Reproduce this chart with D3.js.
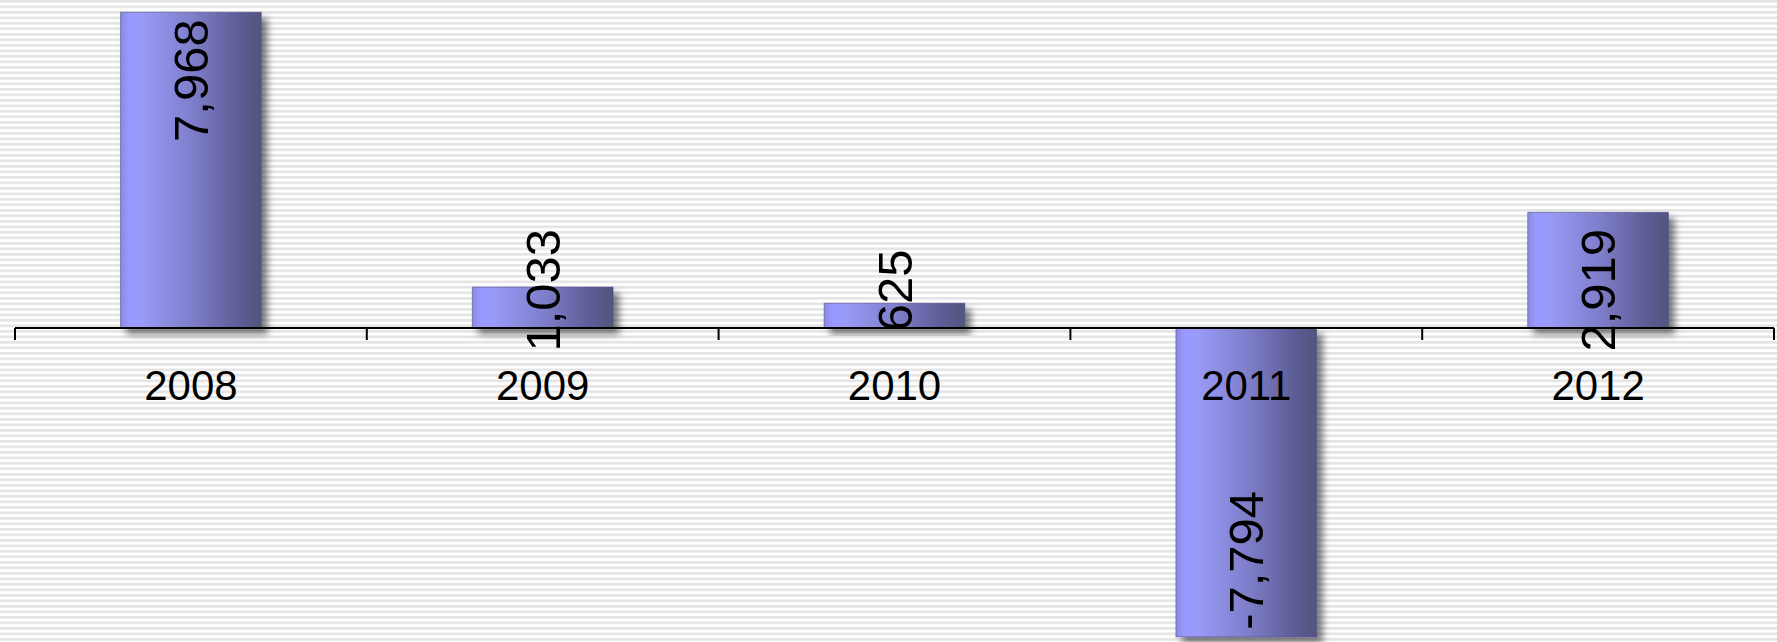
<!DOCTYPE html>
<html>
<head>
<meta charset="utf-8">
<script src="https://cdn.jsdelivr.net/npm/d3@7/dist/d3.min.js"></script>
<style>
  html, body { margin: 0; padding: 0; background: #fff; }
  svg { display: block; }
  text { font-family: Arial, "Liberation Sans", sans-serif; fill: #000; }
</style>
</head>
<body>
<script>
const categories = ["2008", "2009", "2010", "2011", "2012"];
const values = [7968, 1033, 625, -7794, 2919];
const valueLabels = ["7,968", "1,033", "625", "-7,794", "2,919"];
const yDomain = [-8000, 8000];

const W = 1777, H = 642;
const svg = d3.select("body").append("svg").attr("width", W).attr("height", H);
const defs = svg.append("defs");

// striped background
const pat = defs.append("pattern").attr("id", "stripes")
  .attr("patternUnits", "userSpaceOnUse").attr("width", 10).attr("height", 5.5);
pat.append("rect").attr("width", 10).attr("height", 5.5).attr("fill", "#ffffff");
pat.append("rect").attr("y", 0).attr("width", 10).attr("height", 2.6).attr("fill", "#e4e4e4");
svg.append("rect").attr("width", W).attr("height", H).attr("fill", "url(#stripes)");

// bar gradient
const grad = defs.append("linearGradient").attr("id", "barGrad")
  .attr("x1", "0%").attr("x2", "100%").attr("y1", "0%").attr("y2", "0%");
[[0, "#8a8ae0"], [0.06, "#9999ff"], [0.15, "#9a9af8"], [0.5, "#7f7fcc"], [0.85, "#5c5c94"], [1, "#54547e"]]
  .forEach(([o, c]) => grad.append("stop").attr("offset", o).attr("stop-color", c));

const shadow = defs.append("filter").attr("id", "shadow")
  .attr("x", "-20%").attr("y", "-20%").attr("width", "150%").attr("height", "150%");
shadow.append("feDropShadow").attr("dx", 6).attr("dy", 6).attr("stdDeviation", 3.5)
  .attr("flood-color", "#000").attr("flood-opacity", 0.5);

const left = 15, right = 1774;
const x = d3.scaleBand().domain(categories).range([left, right]).paddingInner(0.6).paddingOuter(0.3);
const xEdge = d3.scaleBand().domain(categories).range([left, right]).padding(0);
const y = d3.scaleLinear().domain(yDomain).range([645, 11]);
const y0 = y(0);

const data = categories.map((c, i) => ({ c, v: values[i], label: valueLabels[i] }));

// bars
svg.append("g").selectAll("rect").data(data).join("rect")
  .attr("x", d => x(d.c))
  .attr("width", x.bandwidth())
  .attr("y", d => Math.min(y(d.v), y0))
  .attr("height", d => Math.abs(y(d.v) - y0))
  .attr("fill", "url(#barGrad)")
  .attr("stroke", "rgba(70,70,130,0.55)")
  .attr("stroke-width", 1)
  .attr("filter", "url(#shadow)");

// axis
const yearFs = 42;
const axisG = svg.append("g").attr("transform", `translate(0,${y0})`);
axisG.call(d3.axisBottom(xEdge).tickSize(0).tickPadding(72 - 0.71 * yearFs));
axisG.select(".domain").attr("stroke", "#000").attr("stroke-width", 2).attr("d", `M${left},0H${right}`);
axisG.selectAll(".tick text").attr("font-size", yearFs).attr("font-family", "Arial, 'Liberation Sans', sans-serif");
const edges = categories.map(c => xEdge(c)).concat([right]);
axisG.selectAll("line.edge").data(edges).join("line").attr("class", "edge")
  .attr("x1", d => d).attr("x2", d => d).attr("y1", 0).attr("y2", 12)
  .attr("stroke", "#000").attr("stroke-width", 2);

// value labels (rotated)
const fs = 49;
const labels = svg.append("g").selectAll("text").data(data).join("text")
  .attr("font-size", fs)
  .attr("dy", "0.35em")
  .text(d => d.label);
labels.each(function(d) {
  const t = d3.select(this);
  const len = this.getComputedTextLength();
  const cx = x(d.c) + x.bandwidth() / 2;
  const barLen = Math.abs(y(d.v) - y0);
  let cy;
  if (barLen > len + 20) {
    const inset = 7;
    cy = d.v >= 0 ? y(d.v) + inset + len / 2 : y(d.v) - inset - len / 2;
  } else {
    cy = y0 - fs * 0.77;
  }
  t.attr("text-anchor", "middle")
   .attr("transform", `translate(${cx},${cy}) rotate(-90)`);
});
</script>
</body>
</html>
